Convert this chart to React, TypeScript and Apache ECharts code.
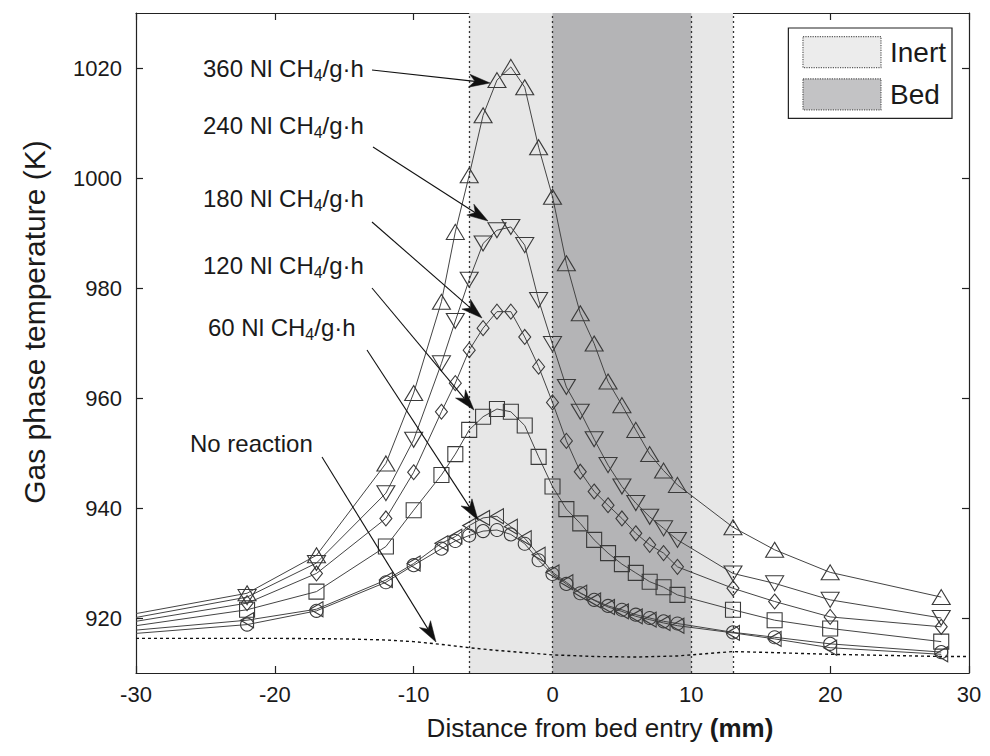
import React, { useEffect, useRef } from 'react';
import * as echarts from 'echarts';

// ---------- data ----------
const X_POS = [-30, -22, -17, -12, -10, -8, -7, -6, -5, -4, -3, -2, -1, 0, 1, 2, 3, 4, 5, 6, 7, 8, 9, 13, 16, 20, 28];

const T360 = [920.8, 924.5, 931.4, 948.1, 960.9, 977.5, 990.2, 1000.5, 1011.4, 1017.8, 1020.2, 1016.5, 1005.6, 996.6, 984.5, 975.4, 969.9, 963.0, 958.7, 954.2, 949.8, 946.8, 944.2, 936.5, 932.4, 928.3, 923.8];
const T240 = [920.1, 923.8, 930.0, 942.7, 952.4, 966.3, 974.0, 981.5, 988.1, 990.5, 991.1, 987.8, 977.8, 969.8, 962.0, 957.5, 952.5, 947.8, 943.9, 940.9, 938.4, 936.3, 934.2, 928.1, 926.3, 923.3, 920.0];
const T180 = [919.4, 922.7, 928.1, 938.1, 946.5, 957.5, 962.7, 968.7, 972.7, 975.7, 975.7, 971.1, 965.7, 959.2, 952.2, 946.6, 943.0, 940.5, 938.1, 935.4, 933.3, 931.8, 929.3, 925.4, 923.0, 920.2, 918.4];
const T120 = [918.6, 921.5, 924.8, 933.0, 939.6, 946.0, 949.8, 954.2, 956.6, 958.0, 957.5, 955.0, 949.3, 943.9, 939.8, 937.2, 934.2, 931.8, 929.8, 928.2, 926.6, 925.6, 924.2, 921.5, 919.6, 918.1, 915.7];
const T60_TRI = [917.8, 919.6, 921.6, 926.9, 929.9, 933.6, 934.8, 936.8, 938.2, 938.5, 936.6, 934.5, 931.5, 928.3, 926.5, 924.6, 923.2, 922.0, 921.2, 920.3, 919.7, 919.1, 918.6, 917.3, 916.2, 914.6, 913.4];
const T60_CIR = [917.2, 918.8, 921.3, 926.5, 929.6, 932.6, 934.0, 935.0, 935.8, 936.0, 935.2, 933.5, 930.5, 928.0, 926.2, 924.5, 923.3, 922.2, 921.5, 920.6, 920.0, 919.4, 919.0, 917.4, 916.5, 915.3, 913.8];

const NR_X = [-30, -20, -15, -12, -10, -8, -6, -4, -2, 0, 3, 6, 9, 11, 13, 16, 20, 24, 28, 30];
const NR_T = [916.3, 916.3, 916.2, 916.0, 915.7, 915.2, 914.6, 914.1, 913.7, 913.3, 913.0, 912.9, 913.1, 913.5, 913.9, 913.7, 913.4, 913.2, 913.0, 913.0];

const INERT_RANGE = [-6, 13];
const BED_RANGE = [0, 10];
const BOUNDARIES = [-6, 0, 10, 13];

const Y_TICKS = [920, 940, 960, 980, 1000, 1020];
const FLOW_LABELS = ['360', '240', '180', '120', '60'];

// ---------- style ----------
const FONT = "'Liberation Sans', Arial, Helvetica, sans-serif";
const INK = '#1a1a1a';
const LINE_C = '#444444';
const MARK_C = '#3a3a3a';
const INERT_C = '#e7e7e7';
const BED_C = '#b4b4b6';

function curve(name: string, values: number[], symbol: string, size: number[] | number, rotate = 0) {
  return {
    type: 'line',
    name,
    z: 4,
    data: X_POS.map((x, i) => (i === 0 ? { value: [x, values[i]], symbol: 'none' } : [x, values[i]])),
    symbol,
    symbolSize: size,
    symbolRotate: rotate,
    showSymbol: true,
    showAllSymbol: true,
    clip: true,
    lineStyle: { color: LINE_C, width: 1 },
    itemStyle: { color: 'rgba(255,255,255,0)', borderColor: MARK_C, borderWidth: 1.1 },
    emphasis: { disabled: true },
    silent: true,
  };
}

function arrow(x1: number, y1: number, x2: number, y2: number) {
  const dx = x2 - x1, dy = y2 - y1;
  const len = Math.sqrt(dx * dx + dy * dy);
  const ux = dx / len, uy = dy / len;
  const nx = -uy, ny = ux;
  const L = 21, W = 6.5;
  const bx = x2 - ux * L, by = y2 - uy * L;
  const mx = x2 - ux * L * 0.72, my = y2 - uy * L * 0.72;
  return [
    { type: 'line', z: 20, shape: { x1, y1, x2: mx, y2: my }, style: { stroke: '#111', lineWidth: 1.1 }, silent: true },
    {
      type: 'polygon',
      z: 20,
      shape: { points: [[x2, y2], [bx + nx * W, by + ny * W], [mx, my], [bx - nx * W, by - ny * W]] },
      style: { fill: '#111', stroke: '#111', lineWidth: 0.5 },
      silent: true,
    },
  ];
}

function flowLabel(label: string, x: number, y: number) {
  return {
    type: 'text',
    x,
    y,
    z: 20,
    silent: true,
    style: {
      text: `{a|${label} Nl CH}{s|4}{a|/g·h}`,
      align: 'left',
      verticalAlign: 'middle',
      rich: {
        a: { fontSize: 24, fontFamily: FONT, fill: INK, lineHeight: 30 },
        s: { fontSize: 16, fontFamily: FONT, fill: INK, lineHeight: 16, verticalAlign: 'bottom' },
      },
    },
  };
}

const LABEL_POS = [
  [203, 68],
  [203, 125],
  [203, 198],
  [203, 265],
  [208, 327],
];
const ARROWS = [
  [372, 70, 490, 83],
  [373, 147, 488, 221],
  [372, 222, 482, 318],
  [372, 288, 474, 410],
  [367, 350, 478, 520],
  [322, 457, 436, 642],
];

function buildOption() {
  const graphics: any[] = [];
  FLOW_LABELS.forEach((l, i) => graphics.push(flowLabel(l, LABEL_POS[i][0], LABEL_POS[i][1])));
  graphics.push({
    type: 'text', x: 190, y: 443, z: 20, silent: true,
    style: { text: 'No reaction', fontSize: 24, fontFamily: FONT, fill: INK, align: 'left', verticalAlign: 'middle' },
  });
  ARROWS.forEach((a) => graphics.push(...arrow(a[0], a[1], a[2], a[3])));
  graphics.push({
    type: 'text', x: 34, y: 322, rotation: Math.PI / 2, z: 20, silent: true,
    style: { text: 'Gas phase temperature (K)', fontSize: 30, fontFamily: FONT, fill: INK, align: 'center', verticalAlign: 'middle' },
  });
  graphics.push({
    type: 'text', x: 600, y: 728, z: 20, silent: true,
    style: {
      text: '{n|Distance from bed entry }{b|(mm)}',
      align: 'center', verticalAlign: 'middle',
      rich: {
        n: { fontSize: 26, fontFamily: FONT, fill: INK },
        b: { fontSize: 26, fontFamily: FONT, fill: INK, fontWeight: 'bold' },
      },
    },
  });

  const axisLineStyle = { color: '#222', width: 1.2 };
  const xBase = {
    type: 'value', min: -30, max: 30, interval: 10,
    splitLine: { show: false },
    axisLine: { show: true, onZero: false, lineStyle: axisLineStyle },
    axisTick: { show: true, inside: true, length: 7, lineStyle: axisLineStyle },
  };
  const yBase = {
    type: 'value', min: 910, max: 1030,
    splitLine: { show: false },
    axisLine: { show: true, onZero: false, lineStyle: axisLineStyle },
    axisTick: { show: true, inside: true, length: 7, lineStyle: axisLineStyle, customValues: Y_TICKS },
  };

  return {
    animation: false,
    backgroundColor: '#ffffff',
    textStyle: { fontFamily: FONT },
    grid: { left: 136, right: 21, top: 13, bottom: 83, containLabel: false },
    xAxis: [
      { ...xBase, position: 'bottom', axisLabel: { show: true, fontSize: 22, color: INK, margin: 10, fontFamily: FONT, formatter: (v: number) => String(v) } },
      { ...xBase, position: 'top', axisLabel: { show: false } },
    ],
    yAxis: [
      { ...yBase, position: 'left', axisLabel: { show: true, fontSize: 22, color: INK, margin: 14, fontFamily: FONT, customValues: Y_TICKS, formatter: (v: number) => String(v) } },
      { ...yBase, position: 'right', axisLabel: { show: false } },
    ],
    legend: {
      show: true,
      data: [
        { name: 'Inert', icon: 'rect', itemStyle: { color: INERT_C, borderColor: '#333', borderWidth: 1.2, borderType: 'dotted' } },
        { name: 'Bed', icon: 'rect', itemStyle: { color: BED_C, borderColor: '#333', borderWidth: 1.2, borderType: 'dotted' } },
      ],
      orient: 'vertical',
      right: 38,
      top: 28,
      itemWidth: 78,
      itemHeight: 31,
      itemGap: 10,
      padding: [8, 6, 8, 14],
      borderColor: '#222',
      borderWidth: 1.2,
      backgroundColor: '#ffffff',
      selectedMode: false,
      textStyle: { fontSize: 28, fontFamily: FONT, color: INK, padding: [0, 0, 0, 4] },
    },
    series: [
      {
        type: 'scatter', name: 'Inert', data: [], z: 1, silent: true,
        itemStyle: { color: INERT_C },
        markArea: {
          silent: true,
          itemStyle: { color: INERT_C },
          data: [[{ xAxis: INERT_RANGE[0] }, { xAxis: INERT_RANGE[1] }]],
        },
      },
      {
        type: 'scatter', name: 'Bed', data: [], z: 2, silent: true,
        itemStyle: { color: BED_C },
        markArea: {
          silent: true,
          itemStyle: { color: BED_C },
          data: [[{ xAxis: BED_RANGE[0] }, { xAxis: BED_RANGE[1] }]],
        },
        markLine: {
          silent: true,
          symbol: 'none',
          label: { show: false },
          lineStyle: { color: '#333', type: [2, 3], width: 1.3 },
          data: BOUNDARIES.map((b) => ({ xAxis: b })),
        },
      },
      {
        type: 'line', name: 'No reaction', z: 3, silent: true,
        data: NR_X.map((x, i) => [x, NR_T[i]]),
        symbol: 'none',
        lineStyle: { color: '#111', width: 1.4, type: [3, 3] },
      },
      curve('360 Nl CH4/g·h', T360, 'triangle', [18, 15]),
      curve('240 Nl CH4/g·h', T240, 'triangle', [18, 15], 180),
      curve('180 Nl CH4/g·h', T180, 'diamond', [12, 15]),
      curve('120 Nl CH4/g·h', T120, 'rect', [15, 15]),
      curve('60 Nl CH4/g·h (left triangles)', T60_TRI, 'triangle', [15, 13], 90),
      curve('60 Nl CH4/g·h (circles)', T60_CIR, 'circle', [13, 13]),
    ],
    graphic: graphics,
  };
}

export default function App() {
  const ref = useRef<HTMLDivElement>(null);
  useEffect(() => {
    document.body.style.margin = '0';
    const chart = echarts.init(ref.current as HTMLDivElement, null, { renderer: 'svg' });
    chart.setOption(buildOption() as any);
    return () => chart.dispose();
  }, []);
  return <div ref={ref} style={{ width: 990, height: 756, background: '#fff' }} />;
}
